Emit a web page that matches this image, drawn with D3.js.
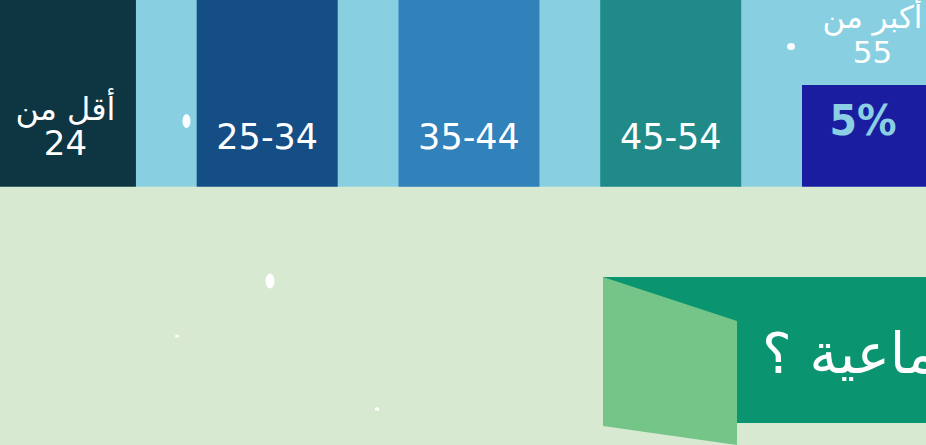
<!DOCTYPE html>
<html><head><meta charset="utf-8">
<script src="https://cdn.jsdelivr.net/npm/d3@7"></script>
<style>html,body{margin:0;padding:0;overflow:hidden;background:#D8E9D2}</style>
</head><body>
<script>
// Data
const categories = ["أقل من 24", "25-34", "35-44", "45-54", "أكبر من 55"];
const labelLine1 = ["أقل من", "", "", "", "أكبر من"];
const labelLine2 = ["24", "25-34", "35-44", "45-54", "55"];
const values = [22, 36, 25, 12, 5];       // percent (upper ones cropped in the picture)
const valueLabels = ["", "", "", "", "5%"];
const barColors = ["#0E3542", "#154E85", "#3181BB", "#208A88", "#1B1DA0"];
const question = "مواقع الشبكات الاجتماعية ؟";
const dots = [[186.5,121,4,7],[270,281,4.5,7.5],[177,336,2,1.6],[377,409,2.5,1.8],[791,46.5,4,3.5]];

const W = 926, H = 445;
const svg = d3.select("body").append("svg").attr("width", W).attr("height", H);

svg.append("rect").attr("x",0).attr("y",0).attr("width",W).attr("height",H).attr("fill","#D8E9D2");
const base = 186.7;
svg.append("rect").attr("x",0).attr("y",0).attr("width",W).attr("height",base).attr("fill","#89CFE2");

const x = d3.scaleBand().domain(categories).range([-5.07, 943.0]).paddingInner(0.3012).paddingOuter(0);
const y = d3.scaleLinear().domain([0, 5]).range([base, 85]);

const g = svg.append("g");
g.selectAll("rect.bar").data(categories).join("rect")
  .attr("class","bar")
  .attr("x", d => x(d)).attr("width", x.bandwidth())
  .attr("y", (d,i) => y(values[i])).attr("height", (d,i) => base - y(values[i]))
  .attr("fill", (d,i) => barColors[i]);

const font = "'DejaVu Sans', sans-serif";
categories.forEach((c,i) => {
  const cx = x(c) + x.bandwidth()/2;
  const top = y(values[i]);
  const inside = top < 40;
  if (inside) {
    if (labelLine1[i]) {
      g.append("text").attr("x", cx).attr("y", 120)
        .attr("text-anchor","middle").attr("fill","#fff")
        .style("font-family", font).style("font-size","32px")
        .text(labelLine1[i]);
      g.append("text").attr("x", cx).attr("y", 155)
        .attr("text-anchor","middle").attr("fill","#fff")
        .style("font-family", font).style("font-size","34px")
        .text(labelLine2[i]);
    } else {
      g.append("text").attr("x", cx).attr("y", 149)
        .attr("text-anchor","middle").attr("fill","#fff")
        .style("font-family", font).style("font-size","35px")
        .text(labelLine2[i]);
    }
  } else {
    g.append("text").attr("x", cx).attr("y", top - 57)
      .attr("text-anchor","middle").attr("fill","#fff")
      .style("font-family", font).style("font-size","31px")
      .text(labelLine1[i]);
    g.append("text").attr("x", cx).attr("y", top - 22)
      .attr("text-anchor","middle").attr("fill","#fff")
      .style("font-family", font).style("font-size","31px")
      .text(labelLine2[i]);
  }
  if (valueLabels[i]) {
    g.append("text").attr("x", cx - 9.5).attr("y", top + 50)
      .attr("text-anchor","middle").attr("fill","#8ACFE3")
      .style("font-family","'DejaVu Sans', sans-serif").style("font-weight","bold")
      .style("font-size","43px").attr("textLength", 67).attr("lengthAdjust","spacingAndGlyphs")
      .text(valueLabels[i]);
  }
});

// ribbon
svg.append("rect").attr("x",603).attr("y",277).attr("width",W-603).attr("height",146).attr("fill","#0A9570");
svg.append("polygon").attr("points","603,277 737,321 737,445 603,426").attr("fill","#74C587");
svg.append("text").attr("x",762).attr("y",373)
  .attr("direction","rtl").style("direction","rtl").attr("text-anchor","end")
  .attr("fill","#fff").style("font-family","'DejaVu Sans', sans-serif").style("font-size","56px")
  .text(question);

// decorative dots
svg.selectAll("ellipse").data(dots).join("ellipse")
  .attr("cx", d=>d[0]).attr("cy", d=>d[1]).attr("rx", d=>d[2]).attr("ry", d=>d[3])
  .attr("fill","#fff").attr("opacity",0.95);
</script>
</body></html>
